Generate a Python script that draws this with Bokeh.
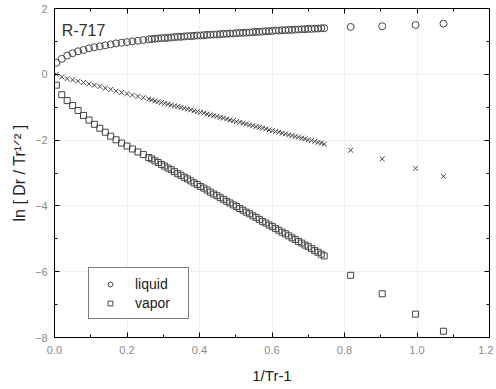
from bokeh.plotting import figure
from bokeh.models import (Legend, LegendItem, LinearAxis, FixedTicker,
                          PrintfTickFormatter, Label, Range1d, CustomLabelingPolicy)
from bokeh.embed import file_html
from bokeh.resources import INLINE

# ---- data ----
x_vals = [0.005, 0.020, 0.035, 0.050, 0.065, 0.080, 0.095, 0.110, 0.125, 0.140,
          0.155, 0.170, 0.185, 0.200, 0.215, 0.230, 0.245, 0.260,
          0.268, 0.277, 0.286, 0.295, 0.304, 0.313, 0.322, 0.331, 0.340, 0.349,
          0.358, 0.367, 0.376, 0.385, 0.394, 0.403, 0.412, 0.421, 0.430, 0.439,
          0.448, 0.457, 0.466, 0.475, 0.484, 0.493, 0.502, 0.511, 0.520, 0.529,
          0.538, 0.547, 0.556, 0.565, 0.574, 0.583, 0.592, 0.601, 0.610, 0.619,
          0.628, 0.637, 0.646, 0.655, 0.664, 0.673, 0.682, 0.691, 0.700, 0.709,
          0.718, 0.727, 0.736, 0.744,
          0.817, 0.904, 0.996, 1.073]

liquid = [0.35, 0.47, 0.57, 0.64, 0.70, 0.74, 0.79, 0.82, 0.85, 0.88,
          0.91, 0.94, 0.96, 0.98, 1.00, 1.02, 1.04, 1.06,
          1.07, 1.08, 1.09, 1.10, 1.10, 1.11, 1.12, 1.13, 1.14, 1.14,
          1.15, 1.16, 1.16, 1.17, 1.18, 1.18, 1.19, 1.20, 1.20, 1.21,
          1.21, 1.22, 1.23, 1.23, 1.24, 1.24, 1.25, 1.26, 1.26, 1.27,
          1.27, 1.28, 1.29, 1.29, 1.30, 1.31, 1.31, 1.32, 1.33, 1.33,
          1.34, 1.34, 1.35, 1.35, 1.36, 1.36, 1.37, 1.37, 1.38, 1.38,
          1.39, 1.39, 1.40, 1.40,
          1.44, 1.46, 1.50, 1.54]

mixed = [0.00, -0.08, -0.13, -0.17, -0.21, -0.25, -0.29, -0.33, -0.37, -0.42,
         -0.46, -0.51, -0.55, -0.59, -0.63, -0.67, -0.71, -0.75,
         -0.78, -0.81, -0.83, -0.86, -0.88, -0.91, -0.93, -0.96, -0.98, -1.01,
         -1.03, -1.06, -1.08, -1.11, -1.13, -1.16, -1.18, -1.21, -1.23, -1.26,
         -1.28, -1.31, -1.33, -1.36, -1.39, -1.41, -1.44, -1.46, -1.49, -1.51,
         -1.54, -1.56, -1.59, -1.61, -1.64, -1.66, -1.69, -1.71, -1.74, -1.76,
         -1.79, -1.81, -1.84, -1.86, -1.89, -1.91, -1.94, -1.96, -1.99, -2.01,
         -2.04, -2.07, -2.09, -2.12,
         -2.31, -2.57, -2.86, -3.10]

vapor = [-0.33, -0.62, -0.80, -0.95, -1.10, -1.25, -1.39, -1.52, -1.64, -1.76,
         -1.88, -1.99, -2.09, -2.18, -2.27, -2.36, -2.44, -2.53,
         -2.57, -2.63, -2.68, -2.74, -2.79, -2.85, -2.90, -2.96, -3.02, -3.07,
         -3.13, -3.18, -3.24, -3.30, -3.35, -3.41, -3.46, -3.52, -3.58, -3.64,
         -3.69, -3.75, -3.80, -3.86, -3.91, -3.97, -4.02, -4.08, -4.13, -4.19,
         -4.24, -4.30, -4.35, -4.41, -4.47, -4.52, -4.58, -4.63, -4.69, -4.74,
         -4.80, -4.85, -4.91, -4.97, -5.02, -5.08, -5.13, -5.19, -5.24, -5.30,
         -5.36, -5.41, -5.47, -5.52,
         -6.11, -6.67, -7.29, -7.81]

x_ticks = [0.0, 0.2, 0.4, 0.6, 0.8, 1.0, 1.2]
x_minor = [0.1, 0.3, 0.5, 0.7, 0.9, 1.1]
y_ticks = [-8, -6, -4, -2, 0, 2]
y_minor = [-7, -5, -3, -1, 1]

x_label = "1/Tr-1"
y_label = "ln [ Dr / Tr\u00b9\u141f\u00b2 ]"
title_text = "R-717"
legend_labels = ["liquid", "vapor"]

FONT = "Liberation Sans"
MK = "#454545"

p = figure(frame_width=435, frame_height=329, output_backend="svg", toolbar_location=None,
           x_range=Range1d(0, 1.2), y_range=Range1d(-8, 2),
           min_border_left=54, min_border_right=4, min_border_top=8, min_border_bottom=50)
p.background_fill_color = "white"
p.border_fill_color = "white"
p.outline_line_color = "black"
p.outline_line_width = 1

xt = FixedTicker(ticks=x_ticks, minor_ticks=x_minor)
yt = FixedTicker(ticks=y_ticks, minor_ticks=y_minor)

def style_axis(ax, ticker):
    ax.ticker = ticker
    ax.axis_line_color = "black"
    ax.axis_line_width = 1
    ax.major_tick_in = 5
    ax.major_tick_out = 0
    ax.minor_tick_in = 3
    ax.minor_tick_out = 0
    ax.major_tick_line_color = "black"
    ax.minor_tick_line_color = "black"
    ax.major_label_text_font = FONT
    ax.major_label_text_font_size = "11px"
    ax.major_label_text_color = "#8a8a8a"
    ax.axis_label_text_font = FONT
    ax.axis_label_text_font_style = "normal"
    ax.axis_label_text_color = "#222222"

xa = p.xaxis[0]
style_axis(xa, xt)
xa.formatter = PrintfTickFormatter(format="%.1f")
xa.major_label_standoff = 8
xa.axis_label = x_label
xa.axis_label_text_font_size = "15px"
xa.axis_label_standoff = 10

ya = p.yaxis[0]
style_axis(ya, yt)
ya.major_label_standoff = 7
ya.axis_label = y_label
ya.axis_label_text_font_size = "16px"
ya.axis_label_standoff = 4

# frame ticks on the top and right sides, without labels
hide_all = "const all = [...indices]; for (const i of all) { indices.unset(i) } return indices;"
for side in ("above", "right"):
    ax = LinearAxis(major_label_policy=CustomLabelingPolicy(code=hide_all))
    style_axis(ax, xt if side == "above" else yt)
    ax.major_label_text_font_size = "1px"
    ax.major_label_standoff = 0
    p.add_layout(ax, side)

p.xgrid.grid_line_color = "#f0f0f0"
p.ygrid.grid_line_color = "#f0f0f0"
p.xgrid.ticker = xt
p.ygrid.ticker = yt

r_liq = p.scatter(x_vals, liquid, marker="circle", size=7, fill_color=None,
                  line_color=MK, line_width=1)
p.scatter(x_vals, mixed, marker="x", size=7, line_color=MK, line_width=1)
r_vap = p.scatter(x_vals, vapor, marker="square", size=6, fill_color=None,
                  line_color=MK, line_width=1)

p.add_layout(Label(x=0.02, y=1.32, text=title_text, text_font=FONT,
                   text_font_size="16px", text_color="#333333",
                   text_baseline="alphabetic"))

legend = Legend(items=[LegendItem(label=legend_labels[0], renderers=[r_liq]),
                       LegendItem(label=legend_labels[1], renderers=[r_vap])],
                location=(34, 18), orientation="vertical")
legend.border_line_color = "black"
legend.border_line_width = 1
legend.background_fill_color = "white"
legend.padding = 6
legend.margin = 0
legend.spacing = 0
legend.glyph_width = 30
legend.glyph_height = 12
legend.label_height = 19
legend.label_width = 47
legend.label_standoff = 10
legend.label_text_font = FONT
legend.label_text_font_size = "14px"
legend.label_text_color = "#222222"
p.add_layout(legend, "center")

open("out.html", "w").write(file_html(p, INLINE))
